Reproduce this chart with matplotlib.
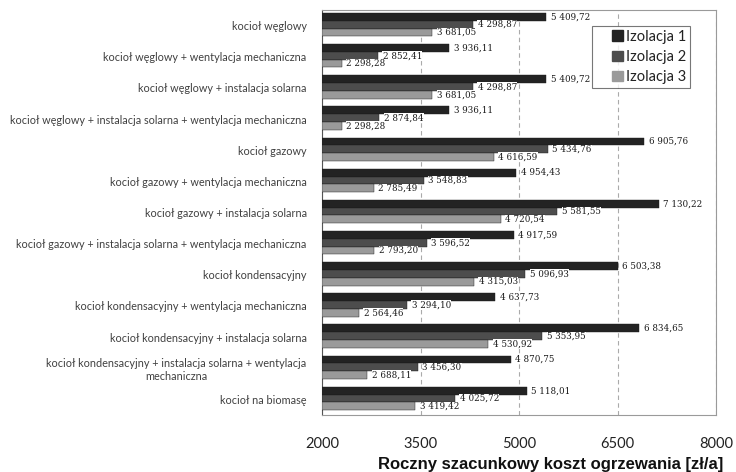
import numpy as np
import matplotlib.pyplot as plt
import matplotlib.patches as mpatches
from matplotlib.legend_handler import HandlerPatch

kategorie = [
    'kocioł węglowy',
    'kocioł węglowy + wentylacja mechaniczna',
    'kocioł węglowy + instalacja solarna',
    'kocioł węglowy + instalacja solarna + wentylacja mechaniczna',
    'kocioł gazowy',
    'kocioł gazowy + wentylacja mechaniczna',
    'kocioł gazowy + instalacja solarna',
    'kocioł gazowy + instalacja solarna + wentylacja mechaniczna',
    'kocioł kondensacyjny',
    'kocioł kondensacyjny + wentylacja mechaniczna',
    'kocioł kondensacyjny + instalacja solarna',
    'kocioł kondensacyjny + instalacja solarna + wentylacja\nmechaniczna',
    'kocioł na biomasę',
]
izolacja1 = [5409.72, 3936.11, 5409.72, 3936.11, 6905.76, 4954.43, 7130.22,
             4917.59, 6503.38, 4637.73, 6834.65, 4870.75, 5118.01]
izolacja2 = [4298.87, 2852.41, 4298.87, 2874.84, 5434.76, 3548.83, 5581.55,
             3596.52, 5096.93, 3294.10, 5353.95, 3456.30, 4025.72]
izolacja3 = [3681.05, 2298.28, 3681.05, 2298.28, 4616.59, 2785.49, 4720.54,
             2793.20, 4315.03, 2564.46, 4530.92, 2688.11, 3419.42]
serie = ['Izolacja 1', 'Izolacja 2', 'Izolacja 3']
kolory = ['#232323', '#4d4d4d', '#9a9a9a']

def fmt(v):
    s = f'{v:,.2f}'
    return s.replace(',', ' ').replace('.', ',')

# kwadratowy znacznik w legendzie, dosuniety do tekstu
def kwadrat(legend, orig_handle, xdescent, ydescent, width, height, fontsize):
    s = height
    return mpatches.Rectangle((width - s - xdescent, -ydescent), s, s)

fig = plt.figure(figsize=(7.36, 4.72), dpi=100)
ax = fig.add_axes([322/736, 1-415/472, 394/736, 405/472])

n = len(kategorie)
y = np.arange(n)
h = 0.25
start = 2000
for i, (dane, kol) in enumerate(zip([izolacja1, izolacja2, izolacja3], kolory)):
    pos = y + (i - 1) * h - 0.03
    dane = np.array(dane)
    ax.barh(pos, dane - start, left=start, height=h, color=kol,
            edgecolor='#1a1a1a', linewidth=0.3, label=serie[i], zorder=3)
    for p, v in zip(pos, dane):
        ax.text(v + 70, p, fmt(v), va='center', ha='left', fontsize=6.3,
                family='DejaVu Serif', color='#1a1a1a', zorder=4,
                bbox=dict(facecolor='white', edgecolor='none', pad=0.1))

ax.set_xlim(2000, 8000)
ax.set_ylim(n - 0.5, -0.5)
ax.set_xticks([2000, 3500, 5000, 6500, 8000])
ax.tick_params(axis='x', length=0, labelsize=10.5, pad=16, labelcolor='#222222')
for t in ax.get_xticklabels():
    t.set_family('Lato')
ax.set_yticks(y)
ax.set_yticklabels(kategorie, fontsize=7.8, family='Lato', color='#404040',
                   ha='right', multialignment='center')
ax.tick_params(axis='y', length=0, pad=11)
ax.xaxis.grid(True, linestyle=(0, (4, 3)), color='#aaaaaa', linewidth=0.8)
ax.set_axisbelow(True)
for s in ['top', 'right', 'bottom']:
    ax.spines[s].set_color('#9a9a9a')
ax.spines['left'].set_color('#555555')

fig.text(551/736, 1-469/472, 'Roczny szacunkowy koszt ogrzewania [zł/a]',
         fontsize=12, fontweight='bold', family='Liberation Sans',
         ha='center', va='baseline', color='#111111')

uchwyty = [mpatches.Patch(color=k) for k in kolory]
leg = ax.legend(uchwyty, serie, loc='upper left',
                bbox_to_anchor=(592/736, 1-26/472), bbox_transform=fig.transFigure,
                prop={'family': 'Lato', 'size': 10.5}, frameon=True,
                fancybox=False, handlelength=1.85, handleheight=0.7,
                handletextpad=0.25, labelspacing=0.42, borderpad=0.25,
                borderaxespad=0,
                handler_map={mpatches.Patch: HandlerPatch(patch_func=kwadrat)})
leg.get_frame().set_edgecolor('#555555')
leg.get_frame().set_linewidth(0.8)
for t in leg.get_texts():
    t.set_color('#222222')

fig.savefig('out.png', dpi=100)
